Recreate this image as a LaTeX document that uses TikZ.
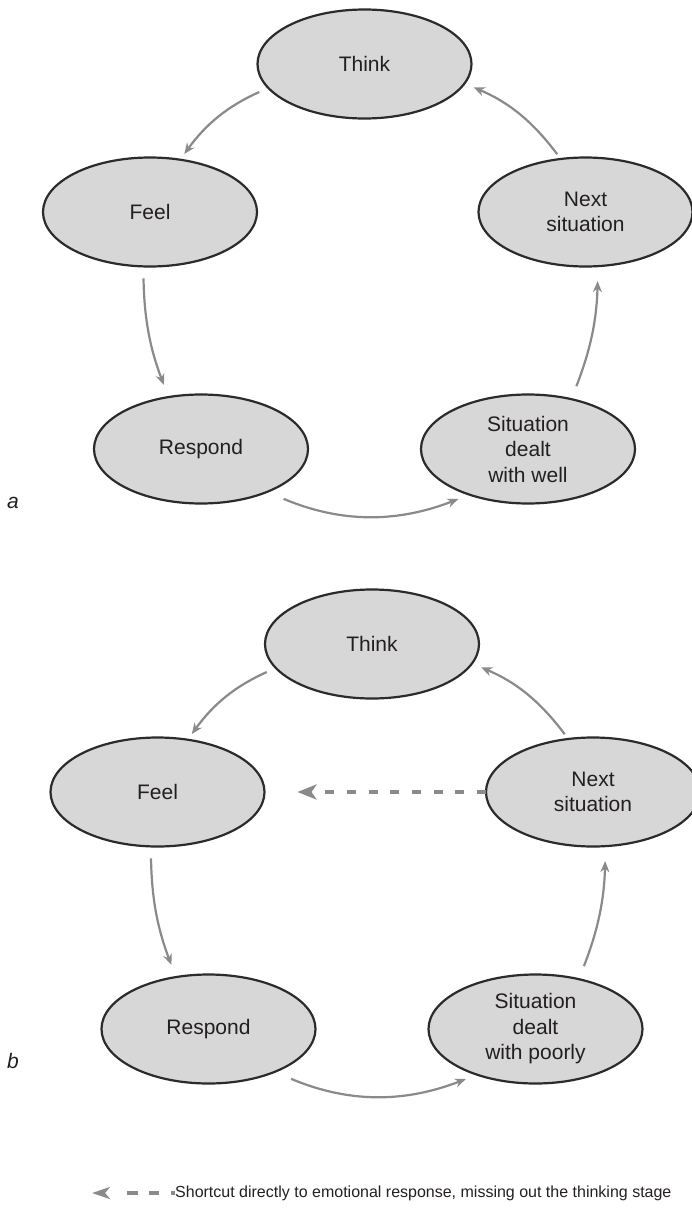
\documentclass[tikz,border=0pt]{standalone}
\usepackage{fontspec}
\setmainfont{Liberation Sans}
\usetikzlibrary{shapes.geometric,arrows.meta}

\definecolor{ringfill}{HTML}{D7D7D7}
\definecolor{ringline}{HTML}{2B2B2B}
\definecolor{flow}{HTML}{8A8A8C}
\definecolor{ink}{HTML}{231F20}

\tikzset{
  stage/.style={ellipse, draw=ringline, fill=ringfill, line width=2.2pt,
    minimum width=214pt, minimum height=109pt, inner sep=0pt, outer sep=0pt,
    text=ink, font=\fontsize{21}{25.5}\selectfont, align=center},
  flowarrow/.style={draw=flow, line width=2.2pt, -{Stealth[length=11pt,width=9pt]}},
  shortcut/.style={draw=flow, line width=4pt, dash pattern=on 9pt off 12.7pt,
    -{Stealth[length=19pt,width=15pt,inset=5pt]}},
  legendarrow/.style={draw=flow, line width=4pt,
    dash pattern=on 4pt off 12pt on 10pt off 11pt on 11pt off 40pt,
    -{Stealth[length=18pt,width=12pt,inset=5pt]}},
  panel/.style={font=\fontsize{21}{25}\selectfont\itshape, text=ink,
    anchor=base west, inner sep=0pt},
  legendtext/.style={font=\fontsize{16}{19}\selectfont, text=ink,
    anchor=west, inner sep=0pt},
}

% One think-feel-respond cycle: #1 name suffix, #2 x shift, #3 y shift, #4 outcome text
\newcommand\drawcycle[4]{%
  \begin{scope}[shift={(#2,#3)}]
    \node[stage] (think#1)     at (364.5,64)  {Think};
    \node[stage] (feel#1)      at (150,212)   {Feel};
    \node[stage] (next#1)      at (585.5,212) {Next\\situation};
    \node[stage] (respond#1)   at (201,449)   {Respond};
    \node[stage] (situation#1) at (528,449)   {Situation\\dealt\\#4};
  \end{scope}
  \draw[flowarrow, shorten <=10pt, shorten >=7pt]
    (think#1.194) to[bend right=15] (feel#1.60);
  \draw[flowarrow, shorten <=12pt, shorten >=13pt]
    (feel#1.263) to[bend right=10] (respond#1.122);
  \draw[flowarrow, shorten <=18pt, shorten >=12pt]
    (respond#1.327) to[bend right=22] (situation#1.218);
  \draw[flowarrow, shorten <=14pt, shorten >=15pt]
    (situation#1.49) to[bend right=10] (next#1.283);
  \draw[flowarrow, shorten <=6pt, shorten >=10pt]
    (next#1.115) to[bend right=15] (think#1.349);
}

\begin{document}
\begin{tikzpicture}[x=1pt,y=-1pt]
  \useasboundingbox (0,0) rectangle (692,1210);

  % panel a: thinking before responding
  \drawcycle{A}{0}{0}{with well}
  \node[panel] (labelA) at (7,508) {a};

  % panel b: the thinking stage is skipped
  \drawcycle{B}{7.5}{580}{with poorly}
  \node[panel] (labelB) at (7,1068) {b};
  \draw[shortcut, shorten >=33pt] (nextB.west) -- (feelB.east);

  % key
  \node[legendtext] (legend) at (175,1193)
    {Shortcut directly to emotional response, missing out the thinking stage};
  \coordinate (legendtip) at (92,1193);
  \draw[legendarrow] (legend.west) -- (legendtip);
\end{tikzpicture}
\end{document}
